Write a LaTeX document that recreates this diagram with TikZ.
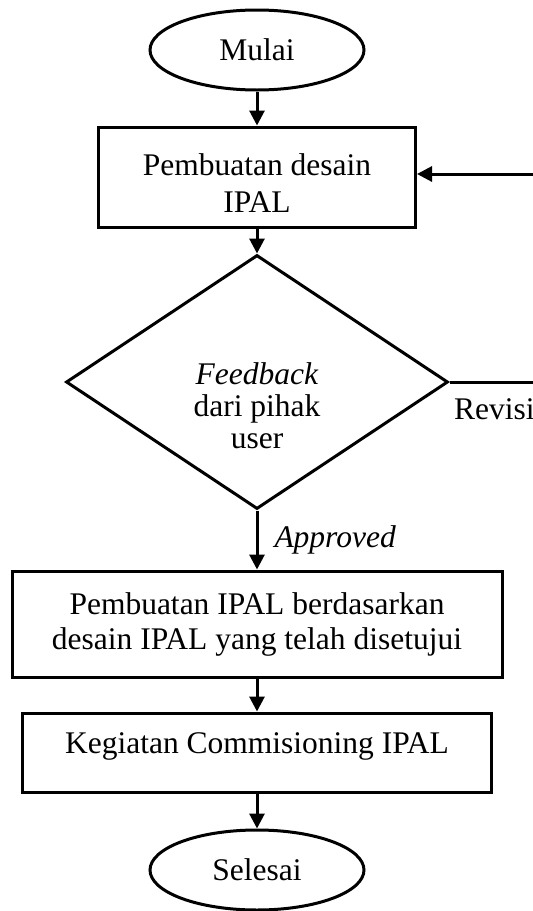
\documentclass[tikz,border=0pt]{standalone}
\usepackage{fontspec}
\setmainfont{Liberation Serif}
\usetikzlibrary{shapes.geometric,arrows.meta}
\tikzset{
  every node/.style={font=\fontsize{31.5}{35}\selectfont, inner sep=0pt},
  terminal/.style={draw, ellipse, line width=3pt, minimum width=214pt, minimum height=80pt},
  process/.style={draw, rectangle, line width=3pt, align=center},
  decision/.style={draw, diamond, line width=3pt, minimum width=382pt, minimum height=254pt},
  flow/.style={line width=3pt, -{Triangle[length=15pt,width=15pt]}},
  plain/.style={line width=3pt}
}
\begin{document}
\begin{tikzpicture}[x=1pt,y=-1pt]
\useasboundingbox (0,0) rectangle (533,911);
\node[terminal] (mulai) at (257,50) {Mulai};
\node[process, minimum width=317pt, minimum height=100pt] (desain) at (257,177) {};
\node[align=center, font=\fontsize{31.5}{37}\selectfont] (desaintext) at (257,183) {Pembuatan desain\\IPAL};
\node[decision] (fb) at (257,382) {};
\node[align=center, font=\fontsize{31.5}{32}\selectfont] (fbtext) at (257,406) {\textit{Feedback}\\dari pihak\\user};
\node[process, minimum width=490pt, minimum height=106pt] (buat) at (257,624) {Pembuatan IPAL berdasarkan\\desain IPAL yang telah disetujui};
\node[process, minimum width=469pt, minimum height=79pt] (komis) at (257,752.5) {};
\node (komistext) at (257,746) {Kegiatan Commisioning IPAL};
\node[terminal] (selesai) at (257,870) {Selesai};
\coordinate (r2) at (534,174);
\draw[flow] (mulai.south) -- (desain.north);
\draw[flow] (desain.south) -- (fb.north);
\draw[flow] (fb.south) -- node[right=16pt, font=\fontsize{31.5}{35}\selectfont\itshape] (appr) {Approved} (buat.north);
\draw[flow] (buat.south) -- (komis.north);
\draw[flow] (komis.south) -- (selesai.north);
\draw[plain] (fb.east) -- (fb.east -| r2);
\draw[flow] (r2) -- (desain.east |- r2);
\node[anchor=west] (rev) at (454,409) {Revisi};
\end{tikzpicture}
\end{document}
